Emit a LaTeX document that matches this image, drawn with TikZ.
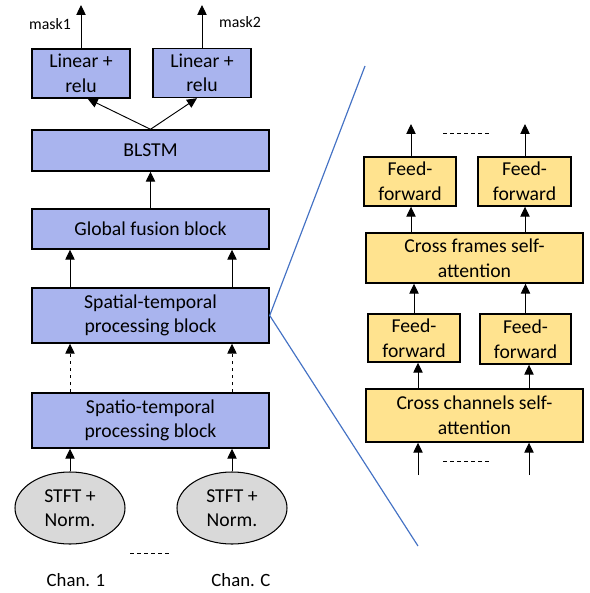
\documentclass[tikz,border=0pt]{standalone}
\usepackage{fontspec}
\setmainfont{Carlito}
\usepackage{xcolor}
\usetikzlibrary{positioning,
				arrows.meta,
				shapes.geometric,
				calc}
\definecolor{blkblue}{HTML}{A9B4EE}
\definecolor{blkyellow}{HTML}{FFE38F}
\definecolor{stftgray}{HTML}{D9D9D9}
\definecolor{zoomline}{HTML}{4472C4}
\tikzset{
	blk/.style={draw, line width=1.2pt, fill=blkblue, inner sep=0pt, align=center,
		font=\fontsize{16.8}{21}\selectfont},
	yblk/.style={blk, fill=blkyellow},
	stft/.style={draw, ellipse, line width=0.9pt, fill=stftgray, inner sep=0pt, align=center,
		minimum width=3.3cm, minimum height=2.16cm, font=\fontsize{16.8}{21}\selectfont},
	arr/.style={-{Triangle[length=8.5pt,width=8pt]}, line width=0.8pt},
	lbl/.style={inner sep=0pt, font=\fontsize{13.5}{16}\selectfont},
	chan/.style={inner sep=0pt, font=\fontsize{16}{19}\selectfont}
}

\begin{document}
\begin{tikzpicture}[x=0.03cm,y=-0.03cm]
		\useasboundingbox (0,0) rectangle (589,593);
		% left column
		\node[blk, minimum width=2.94cm, minimum height=1.47cm] (lin1) at (81,73.5) {Linear +\\relu};
		\node[blk, minimum width=2.94cm, minimum height=1.47cm] (lin2) at (202,73) {Linear +\\relu};
		\node[blk, minimum width=7.11cm, minimum height=1.23cm] (blstm) at (150.5,150.5) {BLSTM};
		\node[blk, minimum width=7.11cm, minimum height=1.2cm] (glob) at (150.5,229) {Global fusion block};
		\node[blk, minimum width=7.11cm, minimum height=1.65cm] (spat) at (150.5,315.5) {Spatial-temporal\\processing block};
		\node[blk, minimum width=7.11cm, minimum height=1.65cm] (spatio) at (150.5,420.5) {Spatio-temporal\\processing block};
		\node[stft] (stft1) at (70,508) {STFT +\\Norm.};
		\node[stft] (stft2) at (232,508) {STFT +\\Norm.};
		\node[chan] (chan1) at (76,580) {Chan. 1};
		\node[chan] (chanC) at (241,580) {Chan. C};
		\node[lbl] (mask1) at (50,24) {mask1};
		\node[lbl] (mask2) at (240,22) {mask2};
		\coordinate (out1) at (81,5);
		\coordinate (out2) at (202,5);
		\draw[dashed, line width=0.5pt] (130,553) -- (172,553);

		\draw[arr] (lin1.north) -- (out1);
		\draw[arr] (lin2.north) -- (out2);
		\draw[arr] (blstm.north) -- ([xshift=0.2cm]lin1.south);
		\draw[arr] (blstm.north) -- ([xshift=-0.15cm]lin2.south);
		\draw[arr] (glob.north) -- (blstm.south);
		\draw[arr] (spat.north -| stft1) -- (glob.south -| stft1);
		\draw[arr] (spat.north -| stft2) -- (glob.south -| stft2);
		\draw[arr, dashed] (spatio.north -| stft1) -- (spat.south -| stft1);
		\draw[arr, dashed] (spatio.north -| stft2) -- (spat.south -| stft2);
		\draw[arr] (stft1.north) -- (spatio.south -| stft1);
		\draw[arr] (stft2.north) -- (spatio.south -| stft2);

		% zoom lines
		\coordinate (ztop) at (365,66);
		\coordinate (zbot) at (418,546);
		\draw[zoomline, line width=1pt] (ztop) -- (spat.east) -- (zbot);

		% right column
		\node[yblk, minimum width=2.76cm, minimum height=1.47cm] (ffa1) at (410,181.5) {Feed-\\forward};
		\node[yblk, minimum width=2.79cm, minimum height=1.47cm] (ffa2) at (524.5,181.5) {Feed-\\forward};
		\node[yblk, minimum width=6.51cm, minimum height=1.5cm] (frames) at (474.5,258) {Cross frames self-\\attention};
		\node[yblk, minimum width=2.76cm, minimum height=1.44cm] (ffb1) at (414,338) {Feed-\\forward};
		\node[yblk, minimum width=2.73cm, minimum height=1.5cm] (ffb2) at (525.5,339) {Feed-\\forward};
		\node[yblk, minimum width=6.51cm, minimum height=1.59cm] (chans) at (474.5,415.5) {Cross channels self-\\attention};
		\coordinate (top1) at (411,124);
		\coordinate (top2) at (525,124);
		\coordinate (in1) at (418,475);
		\coordinate (in2) at (529,475);
		\draw[dashed, line width=0.5pt] (443,133) -- (490,133);
		\draw[dashed, line width=0.5pt] (443,461) -- (490,461);

		\draw[arr] (ffa1.north -| top1) -- (top1);
		\draw[arr] (ffa2.north -| top2) -- (top2);
		\draw[arr] (frames.north -| top1) -- (ffa1.south -| top1);
		\draw[arr] (frames.north -| top2) -- (ffa2.south -| top2);
		\draw[arr] (ffb1.north) -- (frames.south -| ffb1);
		\draw[arr] (ffb2.north) -- (frames.south -| ffb2);
		\draw[arr] (chans.north -| in1) -- (ffb1.south -| in1);
		\draw[arr] (chans.north -| in2) -- (ffb2.south -| in2);
		\draw[arr] (in1) -- (chans.south -| in1);
		\draw[arr] (in2) -- (chans.south -| in2);
	\end{tikzpicture}
\end{document}
